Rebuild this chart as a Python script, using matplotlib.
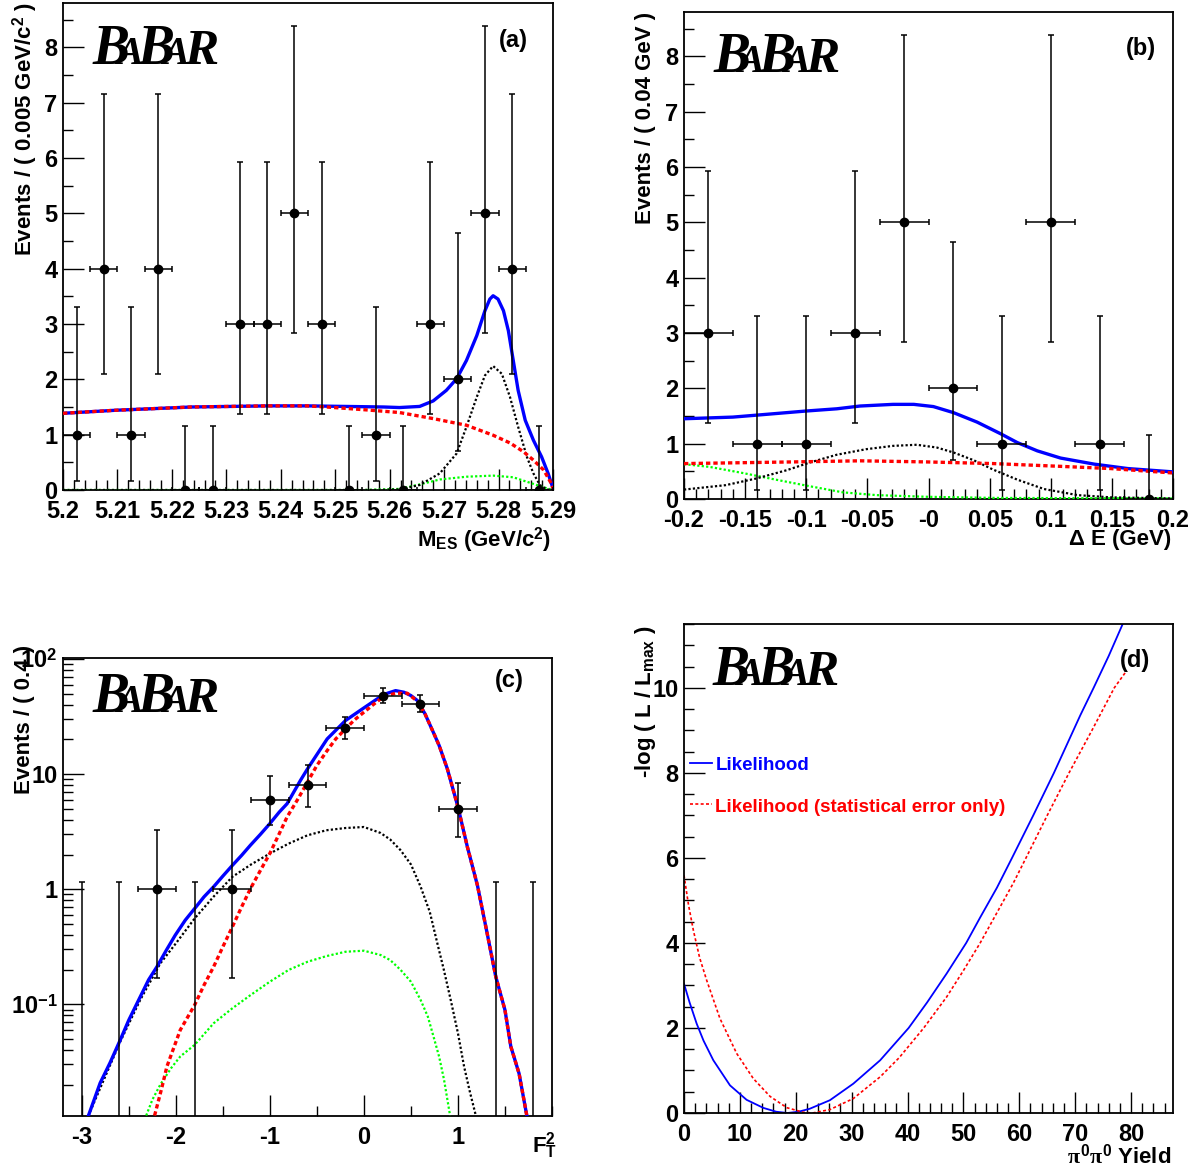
import matplotlib
matplotlib.use('Agg')
import matplotlib.pyplot as plt
from matplotlib.ticker import MultipleLocator, FixedLocator, LogLocator, NullFormatter

plt.rcParams['font.family'] = ['Liberation Sans', 'DejaVu Sans']
plt.rcParams['font.weight'] = 'bold'
plt.rcParams['mathtext.fontset'] = 'custom'
plt.rcParams['mathtext.rm'] = 'Liberation Sans:bold'
plt.rcParams['mathtext.bf'] = 'Liberation Sans:bold'
plt.rcParams['mathtext.it'] = 'Liberation Serif'

W, H = 1195, 1168

# ---------------- (a) M_ES ----------------
a_x = [5.2025, 5.2075, 5.2125, 5.2175, 5.2225, 5.2275, 5.2325, 5.2375, 5.2425,
       5.2475, 5.2525, 5.2575, 5.2625, 5.2675, 5.2725, 5.2775, 5.2825, 5.2875]
a_n = [1, 4, 1, 4, 0, 0, 3, 3, 5, 3, 0, 1, 0, 3, 2, 5, 4, 0]
a_lo = [0.17, 2.09, 0.17, 2.09, 0, 0, 1.37, 1.37, 2.84, 1.37, 0, 0.17, 0, 1.37, 0.71, 2.84, 2.09, 0]
a_hi = [3.30, 7.16, 3.30, 7.16, 1.15, 1.15, 5.92, 5.92, 8.38, 5.92, 1.15, 3.30, 1.15, 5.92, 4.64, 8.38, 7.16, 1.15]

a_tot_x = [5.2, 5.2095, 5.2236, 5.2378, 5.2448, 5.2519, 5.2589, 5.2618, 5.2655, 5.2680,
           5.2704, 5.2723, 5.2741, 5.2760, 5.2775, 5.2784, 5.2790, 5.2799, 5.2809, 5.2818,
           5.2827, 5.2836, 5.2849, 5.2864, 5.2879, 5.2891, 5.29]
a_tot_y = [1.386, 1.44, 1.50, 1.52, 1.52, 1.51, 1.50, 1.49, 1.51, 1.61,
           1.80, 2.01, 2.34, 2.79, 3.24, 3.45, 3.51, 3.45, 3.24, 2.88,
           2.34, 1.80, 1.26, 0.90, 0.60, 0.30, 0.03]
a_bkg_x = [5.2, 5.2095, 5.2236, 5.2378, 5.2448, 5.2484, 5.2554, 5.2618, 5.2680, 5.2741,
           5.2790, 5.2821, 5.2846, 5.2864, 5.2883, 5.2895, 5.29]
a_bkg_y = [1.386, 1.44, 1.50, 1.52, 1.52, 1.50, 1.45, 1.40, 1.29, 1.17,
           0.99, 0.85, 0.69, 0.54, 0.36, 0.15, 0.03]
a_sig_x = [5.2, 5.2580, 5.2618, 5.2655, 5.2692, 5.2723, 5.2741, 5.2760, 5.2775, 5.2790,
           5.2806, 5.2821, 5.2836, 5.2852, 5.2864, 5.2876, 5.2889, 5.29]
a_sig_y = [0, 0, 0.01, 0.09, 0.30, 0.66, 1.14, 1.68, 2.07, 2.24,
           2.10, 1.68, 1.14, 0.60, 0.30, 0.09, 0.01, 0]
a_bb_x = [5.2, 5.255, 5.2618, 5.2655, 5.2692, 5.2741, 5.2790, 5.2827, 5.2864, 5.2889, 5.29]
a_bb_y = [0, 0, 0.02, 0.10, 0.19, 0.24, 0.26, 0.23, 0.11, 0.03, 0]

# ---------------- (b) Delta E ----------------
b_x = [-0.18, -0.14, -0.10, -0.06, -0.02, 0.02, 0.06, 0.10, 0.14, 0.18]
b_n = [3, 1, 1, 3, 5, 2, 1, 5, 1, 0]
b_lo = [1.37, 0.17, 0.17, 1.37, 2.84, 0.71, 0.17, 2.84, 0.17, 0]
b_hi = [5.92, 3.30, 3.30, 5.92, 8.38, 4.64, 3.30, 8.38, 3.30, 1.15]

b_tot_x = [-0.2, -0.16, -0.138, -0.1, -0.075, -0.056, -0.029, -0.012, 0.004, 0.0205,
           0.0397, 0.0589, 0.0726, 0.089, 0.108, 0.1356, 0.163, 0.2]
b_tot_y = [1.45, 1.48, 1.52, 1.59, 1.63, 1.68, 1.71, 1.71, 1.67, 1.56,
           1.39, 1.18, 1.02, 0.87, 0.74, 0.63, 0.55, 0.49]
b_bkg_x = [-0.2, -0.111, -0.056, -0.0014, 0.053, 0.108, 0.149, 0.2]
b_bkg_y = [0.64, 0.67, 0.69, 0.67, 0.64, 0.59, 0.55, 0.47]
b_sig_x = [-0.2, -0.166, -0.141, -0.116, -0.097, -0.075, -0.051, -0.029, -0.0096, 0.0068,
           0.0205, 0.037, 0.053, 0.0726, 0.0945, 0.122, 0.149, 0.2]
b_sig_y = [0.17, 0.25, 0.37, 0.52, 0.66, 0.80, 0.90, 0.96, 0.98, 0.93,
           0.84, 0.70, 0.53, 0.35, 0.18, 0.07, 0.03, 0.01]
b_bb_x = [-0.2, -0.179, -0.152, -0.125, -0.097, -0.07, -0.0425, -0.0014, 0.053, 0.2]
b_bb_y = [0.63, 0.58, 0.47, 0.35, 0.23, 0.12, 0.07, 0.04, 0.02, 0.01]

# ---------------- (c) Fisher ----------------
c_x = [-3.0, -2.6, -2.2, -1.8, -1.4, -1.0, -0.6, -0.2, 0.2, 0.6, 1.0, 1.4, 1.8]
c_n = [0, 0, 1, 0, 1, 6, 8, 25, 48, 41, 5, 0, 0]
c_lo = [0, 0, 0.17, 0, 0.17, 3.60, 5.22, 20.0, 41.1, 34.6, 2.84, 0, 0]
c_hi = [1.15, 1.15, 3.30, 1.15, 3.30, 9.60, 11.9, 31.1, 56.0, 48.5, 8.38, 1.15, 1.15]

c_tot_x = [-2.929, -2.805, -2.7, -2.599, -2.5, -2.379, -2.29, -2.201, -2.1, -2.006,
           -1.9, -1.8, -1.7, -1.598, -1.5, -1.399, -1.3, -1.207, -1.1, -1.001,
           -0.9, -0.817, -0.675, -0.6, -0.391, -0.196, 0.0, 0.177, 0.25, 0.337,
           0.426, 0.5, 0.568, 0.65, 0.745, 0.8, 0.887, 1.0, 1.1, 1.207,
           1.3, 1.402, 1.5, 1.562, 1.65, 1.732]
c_tot_y = [0.0108, 0.0207, 0.031, 0.0474, 0.073, 0.116, 0.163, 0.212, 0.296, 0.399,
           0.538, 0.679, 0.859, 1.05, 1.30, 1.61, 1.97, 2.41, 3.00, 3.71,
           4.68, 5.53, 8.81, 11.1, 20.2, 29.2, 37.6, 47.1, 50.4, 53.1,
           51.4, 48.1, 43.6, 33.3, 22.4, 17.7, 11.1, 5.18, 2.33, 1.08,
           0.456, 0.174, 0.089, 0.043, 0.025, 0.0108]
c_bkg_x = [-2.226, -2.15, -2.095, -1.953, -1.8, -1.7, -1.598, -1.5, -1.399, -1.3,
           -1.207, -1.1, -1.001, -0.9, -0.817, -0.7, -0.6, -0.5, -0.391, -0.3,
           -0.196, -0.1, 0.0, 0.1, 0.177, 0.25, 0.337, 0.461, 0.568, 0.65,
           0.745, 0.8, 0.887, 1.0, 1.1, 1.207, 1.3, 1.402, 1.5, 1.562,
           1.65, 1.732]
c_bkg_y = [0.0108, 0.0187, 0.0288, 0.0598, 0.0986, 0.147, 0.212, 0.316, 0.471, 0.703,
           1.01, 1.46, 2.04, 3.04, 4.24, 6.11, 8.53, 11.9, 16.0, 20.2,
           24.7, 29.6, 34.5, 40.2, 45.0, 48.1, 50.4, 50.4, 43.0, 33.3,
           22.4, 17.7, 11.1, 5.18, 2.33, 1.08, 0.456, 0.174, 0.089, 0.043,
           0.025, 0.0108]
c_sig_x = [-2.929, -2.599, -2.379, -2.166, -2.0, -1.8, -1.6, -1.399, -1.2, -1.001,
           -0.8, -0.6, -0.4, -0.196, 0.0, 0.177, 0.28, 0.39, 0.5, 0.603,
           0.7, 0.781, 0.85, 0.923, 1.0, 1.065, 1.13, 1.19]
c_sig_y = [0.0108, 0.0459, 0.109, 0.226, 0.338, 0.557, 0.859, 1.28, 1.64, 2.04,
           2.49, 2.94, 3.25, 3.40, 3.47, 3.08, 2.70, 2.18, 1.64, 1.05,
           0.636, 0.338, 0.199, 0.109, 0.056, 0.0288, 0.0169, 0.0108]
c_bb_x = [-2.315, -2.25, -2.166, -2.05, -1.953, -1.8, -1.598, -1.399, -1.207, -1.1,
          -1.001, -0.8, -0.6, -0.4, -0.196, 0.0, 0.177, 0.28, 0.39, 0.5,
          0.603, 0.68, 0.745, 0.8, 0.852, 0.916]
c_bb_y = [0.0108, 0.0148, 0.0200, 0.0279, 0.0352, 0.0444, 0.0684, 0.0923, 0.120, 0.138,
          0.157, 0.199, 0.234, 0.262, 0.286, 0.292, 0.268, 0.242, 0.199, 0.157,
          0.109, 0.078, 0.0507, 0.035, 0.0221, 0.0108]

# ---------------- (d) likelihood scan ----------------
d_full_x = [0, 1.0, 2.27, 3.5, 5.25, 8.23, 11.2, 14.2, 16.5, 18.5, 20.5, 22.5, 26.1, 30.3,
            35.1, 40.2, 43.5, 47.0, 50.5, 53.0, 56.0, 58.7, 62.5, 66.2, 70.9, 73.3, 76.0, 78.5]
d_full_y = [3.04, 2.6, 2.10, 1.7, 1.24, 0.65, 0.31, 0.12, 0.03, 0.0, 0.03, 0.10, 0.30, 0.69,
            1.24, 2.0, 2.6, 3.28, 4.0, 4.6, 5.3, 6.0, 7.0, 8.0, 9.35, 10.0, 10.75, 11.5]
d_stat_x = [0, 0.8, 1.67, 2.8, 4.06, 6.44, 9.43, 12.4, 15.4, 18.4, 21.4, 23.0, 26.1, 30.3,
            35.1, 38.5, 42.9, 47.0, 50.0, 53.0, 58.9, 61.2, 65.0, 68.9, 73.0, 77.0, 79.2]
d_stat_y = [5.59, 4.9, 4.30, 3.65, 3.12, 2.22, 1.40, 0.81, 0.39, 0.125, 0.016, 0.0, 0.08, 0.34,
            0.85, 1.3, 2.0, 2.73, 3.35, 4.0, 5.40, 6.0, 7.0, 8.0, 9.0, 10.0, 10.4]


def pos(l, t, r, b):
    return [l / W, 1 - b / H, (r - l) / W, (b - t) / H]


def root_style(ax):
    ax.tick_params(which='both', direction='in', top=False, right=False,
                   labelsize=17, width=1.0, colors='black')
    ax.tick_params(which='major', length=15)
    ax.tick_params(which='minor', length=7)
    ax.tick_params(axis='x', pad=7)
    ax.tick_params(axis='y', pad=4)
    for s in ax.spines.values():
        s.set_linewidth(1.3)


def data_points(ax, x, n, lo, hi, hw):
    yerr = [[v - l for v, l in zip(n, lo)], [h - v for v, h in zip(n, hi)]]
    ax.errorbar(x, n, yerr=yerr, xerr=hw, fmt='o', color='black', ms=6,
                elinewidth=1.1, capsize=2, capthick=1.1, zorder=5)


def fit_curves(ax, tot, bkg, sig, bb):
    ax.plot(bb[0], bb[1], color='#00ff00', lw=1.6, ls=(0, (1, 1)), zorder=3)
    ax.plot(sig[0], sig[1], color='black', lw=1.6, ls=(0, (1, 1)), zorder=3)
    ax.plot(tot[0], tot[1], color='#0000ff', lw=2.4, zorder=4)
    ax.plot(bkg[0], bkg[1], color='#ff0000', lw=2.4, ls=(0, (1.3, 0.9)), zorder=4)


def babar(left, base):
    letters = [('B', 0, 40), ('A', 23, 29), ('B', 45, 40), ('A', 69, 29), ('R', 91, 37)]
    for ch, dx, fs in letters:
        fig.text((left + dx) / W, 1 - base / H, ch, fontsize=fs, family='Liberation Serif',
                 style='italic', weight='bold', ha='left', va='baseline')


fig = plt.figure(figsize=(W / 100, H / 100), dpi=100)

# (a)
ax = fig.add_axes(pos(63, 3, 553, 490))
root_style(ax)
fit_curves(ax, (a_tot_x, a_tot_y), (a_bkg_x, a_bkg_y), (a_sig_x, a_sig_y), (a_bb_x, a_bb_y))
data_points(ax, a_x, a_n, a_lo, a_hi, 0.0025)
ax.set_xlim(5.2, 5.29)
ax.set_ylim(0, 8.8)
ax.xaxis.set_major_locator(FixedLocator([5.2 + 0.01 * i for i in range(10)]))
ax.set_xticklabels(['5.2', '5.21', '5.22', '5.23', '5.24', '5.25', '5.26', '5.27', '5.28', '5.29'])
ax.xaxis.set_minor_locator(MultipleLocator(0.002))
ax.yaxis.set_major_locator(MultipleLocator(1))
ax.yaxis.set_minor_locator(MultipleLocator(0.5))

# (b)
ax = fig.add_axes(pos(684, 12, 1173, 499))
root_style(ax)
fit_curves(ax, (b_tot_x, b_tot_y), (b_bkg_x, b_bkg_y), (b_sig_x, b_sig_y), (b_bb_x, b_bb_y))
data_points(ax, b_x, b_n, b_lo, b_hi, 0.02)
ax.set_xlim(-0.2, 0.2)
ax.set_ylim(0, 8.8)
ax.xaxis.set_major_locator(FixedLocator([-0.2 + 0.05 * i for i in range(9)]))
ax.set_xticklabels(['-0.2', '-0.15', '-0.1', '-0.05', '-0', '0.05', '0.1', '0.15', '0.2'])
ax.xaxis.set_minor_locator(MultipleLocator(0.01))
ax.yaxis.set_major_locator(MultipleLocator(1))
ax.yaxis.set_minor_locator(MultipleLocator(0.5))

# (c)
ax = fig.add_axes(pos(63, 658, 552, 1116))
ax.set_yscale('log')
root_style(ax)
fit_curves(ax, (c_tot_x, c_tot_y), (c_bkg_x, c_bkg_y), (c_sig_x, c_sig_y), (c_bb_x, c_bb_y))
data_points(ax, c_x, c_n, c_lo, c_hi, 0.2)
ax.set_xlim(-3.2, 2.0)
ax.set_ylim(0.0107, 102)
ax.xaxis.set_major_locator(FixedLocator([-3, -2, -1, 0, 1]))
ax.xaxis.set_minor_locator(MultipleLocator(0.5))
ax.set_xticklabels(['-3', '-2', '-1', '0', '1'])
ax.yaxis.set_major_locator(FixedLocator([0.1, 1, 10, 100]))
ax.set_yticklabels(['10$^{-1}$', '1', '10', '10$^{2}$'])
ax.yaxis.set_minor_locator(LogLocator(base=10, subs=range(2, 10)))
ax.yaxis.set_minor_formatter(NullFormatter())

# (d)
ax = fig.add_axes(pos(684, 624, 1173, 1113))
root_style(ax)
ax.plot(d_full_x, d_full_y, color='#0000ff', lw=1.3)
ax.plot(d_stat_x, d_stat_y, color='#ff0000', lw=1.2, ls=(0, (1.8, 1.4)))
ax.set_xlim(0, 87.5)
ax.set_ylim(0, 11.5)
ax.xaxis.set_major_locator(FixedLocator([0, 10, 20, 30, 40, 50, 60, 70, 80]))
ax.xaxis.set_minor_locator(MultipleLocator(2))
ax.yaxis.set_major_locator(MultipleLocator(2))
ax.yaxis.set_minor_locator(MultipleLocator(0.5))
ax.plot([0.012, 0.057], [0.716, 0.716], color='#0000ff', lw=1.3, transform=ax.transAxes, clip_on=False)
ax.plot([0.012, 0.057], [0.632, 0.632], color='#ff0000', lw=1.2, ls=(0, (1.8, 1.4)),
        transform=ax.transAxes, clip_on=False)
ax.text(0.064, 0.71, 'Likelihood', color='#0000ff', fontsize=13.5, weight='bold',
        transform=ax.transAxes, va='center', ha='left')
ax.text(0.064, 0.625, 'Likelihood (statistical error only)', color='#ff0000', fontsize=13.5,
        weight='bold', transform=ax.transAxes, va='center', ha='left')

# logos and panel tags
babar(93, 64)
babar(714, 72)
babar(93, 712)
babar(713, 685)
for tag, x, y in [('(a)', 513, 40), ('(b)', 1141, 48), ('(c)', 509, 680), ('(d)', 1135, 660)]:
    fig.text(x / W, 1 - y / H, tag, fontsize=17, weight='bold', ha='center', va='center')

# axis titles
ytitles = [('Events / ( 0.005 GeV/c$^{2}$ )', 25, 2), ('Events / ( 0.04 GeV )', 646, 12),
           ('Events / ( 0.4 )', 25, 645), ('-log ( L / L$_{\\mathrm{max}}$ )', 646, 625)]
for txt, x, y in ytitles:
    fig.text(x / W, 1 - y / H, txt, fontsize=16, weight='bold', rotation=90, ha='center', va='top')
xtitles = [('M$_{\\mathrm{ES}}$ (GeV/c$^{2}$)', 551, 540), ('\u0394 E (GeV)', 1171, 540),
           ('F$_{\\mathrm{T}}^{\\mathrm{2}}$', 557, 1146), ('$\\mathit{\\pi}^{0}\\mathit{\\pi}^{0}$ Yield', 1171, 1156)]
for txt, x, y in xtitles:
    fig.text(x / W, 1 - y / H, txt, fontsize=16, weight='bold', ha='right', va='center')

fig.savefig('out.png', dpi=100)
